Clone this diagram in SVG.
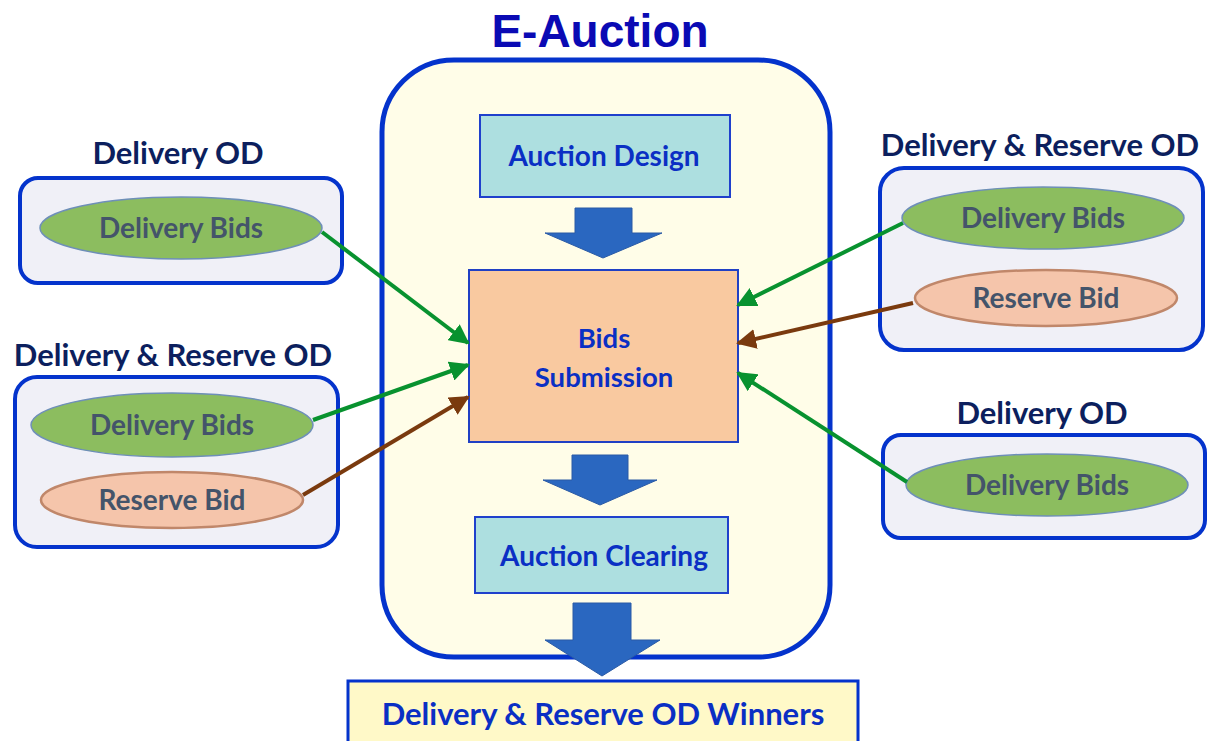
<svg xmlns="http://www.w3.org/2000/svg" width="1210" height="741" viewBox="0 0 1210 741">
<defs>
<style>
.t{font-family:Lato,"Open Sans","Liberation Sans",sans-serif;font-weight:700;text-anchor:middle}
.od{fill:#0c1f5e;font-size:31px}
.bid{fill:#44546a;font-size:28px}
.blue{fill:#0a2fc4}
.grp{fill:#f0f0f7;stroke:#0433cc;stroke-width:4}
.deliv{fill:#8cbd5f;stroke:#6e8fb8;stroke-width:1.5}
.resv{fill:#f5c5ab;stroke:#c0876a;stroke-width:2.5}
.barrow{fill:#2a67c0;stroke:#2a5aa5;stroke-width:1}
.g{stroke:#08922f;stroke-width:4;fill:none}
.b{stroke:#7a3a0e;stroke-width:4;fill:none}
</style>
<marker id="ag" viewBox="0 0 10 10" refX="9" refY="5" markerWidth="5" markerHeight="5" orient="auto" markerUnits="strokeWidth"><path d="M0,0 L10,5 L0,10 Z" fill="#08922f"/></marker>
<marker id="ab" viewBox="0 0 10 10" refX="9" refY="5" markerWidth="5" markerHeight="5" orient="auto" markerUnits="strokeWidth"><path d="M0,0 L10,5 L0,10 Z" fill="#7a3a0e"/></marker>
</defs>
<rect width="1210" height="741" fill="#ffffff"/>

<g id="eauction">
<text x="600" y="47" font-family="'Liberation Sans',Arial,sans-serif" font-weight="700" font-size="46" fill="#0a0ab4" text-anchor="middle">E-Auction</text>
<rect x="382" y="60" width="448" height="597" rx="72" fill="#fffde8" stroke="#0433cc" stroke-width="5"/>
</g>

<g id="auction-design">
<rect x="480" y="115" width="250" height="82" fill="#addfe0" stroke="#1f40cc" stroke-width="2"/>
<text class="t blue" x="604" y="166" font-size="28">Auction Design</text>
</g>
<path class="barrow" d="M575,208 H632 V233 H662 L603,258 L545,233 H575 Z"/>

<g id="bids-submission">
<rect x="469" y="270" width="269" height="172" fill="#f9c9a0" stroke="#2040c4" stroke-width="2"/>
<text class="t blue" x="604" y="348" font-size="27.5">Bids</text>
<text class="t blue" x="604" y="387" font-size="27.5">Submission</text>
</g>
<path class="barrow" d="M572,455 H628 V480 H657 L600,505 L543,480 H572 Z"/>

<g id="auction-clearing">
<rect x="475" y="517" width="253" height="76" fill="#addfe0" stroke="#1f40cc" stroke-width="2"/>
<text class="t blue" x="604" y="566" font-size="28">Auction Clearing</text>
</g>
<path class="barrow" d="M573,603 H631 V640 H660 L602,676 L545,640 H573 Z"/>

<g id="winners">
<rect x="348" y="681" width="510" height="70" fill="#fff9c8" stroke="#0433cc" stroke-width="3"/>
<text class="t blue" x="603" y="725" font-size="31">Delivery &amp; Reserve OD Winners</text>
</g>

<g id="left-delivery-od">
<text class="t od" x="178" y="164">Delivery OD</text>
<rect class="grp" x="20" y="178" width="322" height="105" rx="18"/>
<ellipse class="deliv" cx="181" cy="228" rx="141" ry="31"/>
<text class="t bid" x="181" y="238">Delivery Bids</text>
</g>

<g id="left-delivery-reserve-od">
<text class="t od" x="173" y="366">Delivery &amp; Reserve OD</text>
<rect class="grp" x="15" y="377" width="323" height="170" rx="22"/>
<ellipse class="deliv" cx="172" cy="425" rx="141" ry="32"/>
<text class="t bid" x="172" y="435">Delivery Bids</text>
<ellipse class="resv" cx="172" cy="500" rx="131" ry="28"/>
<text class="t bid" x="172" y="510">Reserve Bid</text>
</g>

<g id="right-delivery-reserve-od">
<text class="t od" x="1040" y="156">Delivery &amp; Reserve OD</text>
<rect class="grp" x="880" y="168" width="323" height="182" rx="24"/>
<ellipse class="deliv" cx="1043" cy="218" rx="141" ry="31"/>
<text class="t bid" x="1043" y="228">Delivery Bids</text>
<ellipse class="resv" cx="1046" cy="298" rx="131" ry="28"/>
<text class="t bid" x="1046" y="308">Reserve Bid</text>
</g>

<g id="right-delivery-od">
<text class="t od" x="1042" y="424">Delivery OD</text>
<rect class="grp" x="883" y="435" width="322" height="103" rx="18"/>
<ellipse class="deliv" cx="1047" cy="485" rx="141" ry="31"/>
<text class="t bid" x="1047" y="495">Delivery Bids</text>
</g>

<g id="connectors">
<line class="g" x1="322" y1="232" x2="468" y2="343" marker-end="url(#ag)"/>
<line class="g" x1="313" y1="420" x2="468" y2="365" marker-end="url(#ag)"/>
<line class="b" x1="303" y1="495" x2="468" y2="397" marker-end="url(#ab)"/>
<line class="g" x1="903" y1="223" x2="738" y2="305" marker-end="url(#ag)"/>
<line class="b" x1="913" y1="303" x2="738" y2="343" marker-end="url(#ab)"/>
<line class="g" x1="907" y1="482" x2="738" y2="373" marker-end="url(#ag)"/>
</g>
</svg>
